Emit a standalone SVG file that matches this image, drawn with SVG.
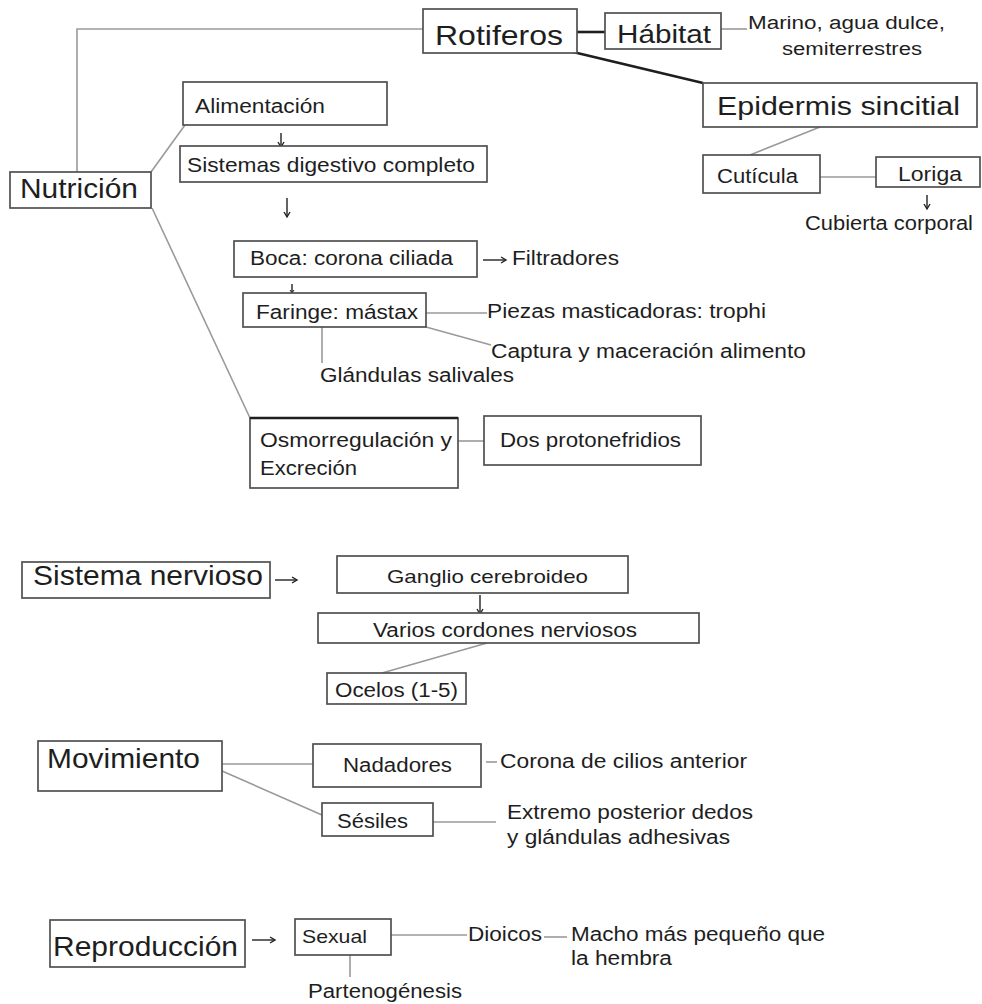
<svg xmlns="http://www.w3.org/2000/svg" width="982" height="1004" viewBox="0 0 982 1004">
  <style>
    .box { fill: #ffffff; stroke: #505050; stroke-width: 1.7; }
    .ln { fill: none; stroke: #9a9a9a; stroke-width: 1.6; }
    .thick { fill: none; stroke: #1e1e1e; stroke-width: 2.6; }
    .arr { fill: none; stroke: #222; stroke-width: 1.4; }
    text { font-family: "Liberation Sans", Arial, sans-serif; fill: #1e1e1e; }
    .big { font-size: 28px; }
    .mid { font-size: 20px; }
  </style>
  <defs>
    <marker id="head" markerWidth="8" markerHeight="8" refX="6" refY="4" orient="auto" markerUnits="userSpaceOnUse">
      <path d="M1,1 L6,4 L1,7" fill="none" stroke="#222" stroke-width="1.4"/>
    </marker>
    <marker id="tiny" markerWidth="6" markerHeight="6" refX="4" refY="3" orient="auto" markerUnits="userSpaceOnUse">
      <path d="M1,1 L4,3 L1,5" fill="none" stroke="#222" stroke-width="1"/>
    </marker>
  </defs>

  <rect width="982" height="1004" fill="#ffffff"/>

  <!-- connectors -->
  <g id="connectors">
    <polyline class="ln" points="423,29 77,29 77,172"/>
    <line class="thick" x1="577" y1="32" x2="605" y2="32"/>
    <line class="ln" x1="721" y1="29" x2="747" y2="29"/>
    <line class="thick" x1="573" y1="52" x2="703" y2="83"/>
    <line class="ln" x1="820" y1="127" x2="750" y2="155"/>
    <line class="ln" x1="820" y1="177" x2="876" y2="177"/>
    <line class="arr" x1="927" y1="195" x2="927" y2="209" marker-end="url(#head)"/>
    <line class="ln" x1="151" y1="172" x2="185" y2="125"/>
    <line class="ln" x1="152" y1="208" x2="250" y2="418"/>
    <line class="arr" x1="281" y1="133" x2="281" y2="147" marker-end="url(#head)"/>
    <line class="arr" x1="287" y1="198" x2="287" y2="217" marker-end="url(#head)"/>
    <line class="arr" x1="483" y1="260" x2="506" y2="260" marker-end="url(#head)"/>
    <line class="arr" x1="292" y1="284" x2="292" y2="293" stroke-width="1" marker-end="url(#tiny)"/>
    <line class="ln" x1="426" y1="313" x2="487" y2="313"/>
    <line class="ln" x1="426" y1="327" x2="491" y2="345"/>
    <line class="ln" x1="322" y1="327" x2="322" y2="363"/>
    <line class="ln" x1="458" y1="441" x2="484" y2="441"/>
    <line class="arr" x1="275" y1="580" x2="297" y2="580" marker-end="url(#head)"/>
    <line class="arr" x1="480" y1="595" x2="480" y2="614" marker-end="url(#head)"/>
    <line class="ln" x1="487" y1="643" x2="382" y2="673"/>
    <line class="ln" x1="222" y1="764" x2="313" y2="764"/>
    <line class="ln" x1="222" y1="771" x2="322" y2="815"/>
    <line class="ln" x1="486" y1="762" x2="497" y2="762"/>
    <line class="ln" x1="433" y1="822" x2="496" y2="822"/>
    <line class="arr" x1="252" y1="940" x2="275" y2="940" marker-end="url(#head)"/>
    <line class="ln" x1="391" y1="935" x2="467" y2="935"/>
    <line class="ln" x1="544" y1="937" x2="567" y2="937"/>
    <line class="ln" x1="350" y1="955" x2="350" y2="977"/>
  </g>

  <!-- root -->
  <g id="rotiferos">
    <rect class="box" x="423" y="9" width="154" height="44"/>
    <text class="big" x="435" y="45" textLength="128" lengthAdjust="spacingAndGlyphs">Rotiferos</text>
  </g>

  <!-- habitat -->
  <g id="habitat">
    <rect class="box" x="605" y="13" width="116" height="36"/>
    <text x="617" y="43" font-size="26" textLength="94" lengthAdjust="spacingAndGlyphs">Hábitat</text>
  </g>
  <g id="habitat-tipos">
    <text x="748" y="29" font-size="18" textLength="197" lengthAdjust="spacingAndGlyphs">Marino, agua dulce,</text>
    <text x="782" y="55" font-size="18" textLength="140" lengthAdjust="spacingAndGlyphs">semiterrestres</text>
  </g>

  <!-- body wall -->
  <g id="epidermis">
    <rect class="box" x="703" y="83" width="274" height="44"/>
    <text x="717" y="115" font-size="26" textLength="243" lengthAdjust="spacingAndGlyphs">Epidermis sincitial</text>
  </g>
  <g id="cuticula">
    <rect class="box" x="703" y="155" width="117" height="38"/>
    <text class="mid" x="717" y="183" textLength="81" lengthAdjust="spacingAndGlyphs">Cutícula</text>
  </g>
  <g id="loriga">
    <rect class="box" x="876" y="157" width="104" height="30"/>
    <text class="mid" x="898" y="181" textLength="64" lengthAdjust="spacingAndGlyphs">Loriga</text>
  </g>
  <g id="cubierta">
    <text class="mid" x="805" y="230" textLength="168" lengthAdjust="spacingAndGlyphs">Cubierta corporal</text>
  </g>

  <!-- nutrition -->
  <g id="nutricion">
    <rect class="box" x="10" y="172" width="141" height="36"/>
    <text class="big" x="20" y="198" textLength="118" lengthAdjust="spacingAndGlyphs">Nutrición</text>
  </g>
  <g id="alimentacion">
    <rect class="box" x="183" y="82" width="204" height="43"/>
    <text class="mid" x="195" y="113" textLength="130" lengthAdjust="spacingAndGlyphs">Alimentación</text>
  </g>
  <g id="digestivo">
    <rect class="box" x="180" y="146" width="307" height="36"/>
    <text x="187" y="172" font-size="21" textLength="288" lengthAdjust="spacingAndGlyphs">Sistemas digestivo completo</text>
  </g>
  <g id="boca">
    <rect class="box" x="234" y="241" width="243" height="36"/>
    <text class="mid" x="250" y="265" textLength="203" lengthAdjust="spacingAndGlyphs">Boca: corona ciliada</text>
  </g>
  <g id="filtradores">
    <text class="mid" x="512" y="265" textLength="107" lengthAdjust="spacingAndGlyphs">Filtradores</text>
  </g>
  <g id="faringe">
    <rect class="box" x="243" y="293" width="183" height="34"/>
    <text class="mid" x="256" y="319" textLength="162" lengthAdjust="spacingAndGlyphs">Faringe: mástax</text>
  </g>
  <g id="piezas">
    <text class="mid" x="487" y="318" textLength="279" lengthAdjust="spacingAndGlyphs">Piezas masticadoras: trophi</text>
  </g>
  <g id="captura">
    <text class="mid" x="491" y="358" textLength="315" lengthAdjust="spacingAndGlyphs">Captura y maceración alimento</text>
  </g>
  <g id="glandulas">
    <text class="mid" x="320" y="382" textLength="194" lengthAdjust="spacingAndGlyphs">Glándulas salivales</text>
  </g>
  <g id="osmorregulacion">
    <rect class="box" x="250" y="418" width="208" height="70"/>
    <line x1="250" y1="418" x2="458" y2="418" stroke="#1e1e1e" stroke-width="2.6"/>
    <text class="mid" x="260" y="447" textLength="192" lengthAdjust="spacingAndGlyphs">Osmorregulación y</text>
    <text class="mid" x="260" y="475" textLength="97" lengthAdjust="spacingAndGlyphs">Excreción</text>
  </g>
  <g id="protonefridios">
    <rect class="box" x="484" y="416" width="217" height="49"/>
    <text class="mid" x="500" y="447" textLength="181" lengthAdjust="spacingAndGlyphs">Dos protonefridios</text>
  </g>

  <!-- nervous system -->
  <g id="sistema-nervioso">
    <rect class="box" x="22" y="562" width="248" height="36"/>
    <text class="big" x="33" y="585" textLength="230" lengthAdjust="spacingAndGlyphs">Sistema nervioso</text>
  </g>
  <g id="ganglio">
    <rect class="box" x="337" y="556" width="291" height="37"/>
    <text x="387" y="583" font-size="19" textLength="201" lengthAdjust="spacingAndGlyphs">Ganglio cerebroideo</text>
  </g>
  <g id="cordones">
    <rect class="box" x="318" y="613" width="381" height="30"/>
    <text class="mid" x="373" y="637" textLength="264" lengthAdjust="spacingAndGlyphs">Varios cordones nerviosos</text>
  </g>
  <g id="ocelos">
    <rect class="box" x="327" y="673" width="139" height="31"/>
    <text class="mid" x="335" y="697" textLength="123" lengthAdjust="spacingAndGlyphs">Ocelos (1-5)</text>
  </g>

  <!-- locomotion -->
  <g id="movimiento">
    <rect class="box" x="38" y="741" width="184" height="50"/>
    <text class="big" x="47" y="768" textLength="153" lengthAdjust="spacingAndGlyphs">Movimiento</text>
  </g>
  <g id="nadadores">
    <rect class="box" x="313" y="744" width="168" height="43"/>
    <text class="mid" x="343" y="772" textLength="109" lengthAdjust="spacingAndGlyphs">Nadadores</text>
  </g>
  <g id="corona">
    <text class="mid" x="500" y="768" textLength="247" lengthAdjust="spacingAndGlyphs">Corona de cilios anterior</text>
  </g>
  <g id="sesiles">
    <rect class="box" x="322" y="803" width="111" height="33"/>
    <text class="mid" x="337" y="828" textLength="71" lengthAdjust="spacingAndGlyphs">Sésiles</text>
  </g>
  <g id="extremo">
    <text class="mid" x="507" y="819" textLength="246" lengthAdjust="spacingAndGlyphs">Extremo posterior dedos</text>
    <text class="mid" x="507" y="844" textLength="223" lengthAdjust="spacingAndGlyphs">y glándulas adhesivas</text>
  </g>

  <!-- reproduction -->
  <g id="reproduccion">
    <rect class="box" x="50" y="920" width="195" height="47"/>
    <text class="big" x="53" y="956" textLength="185" lengthAdjust="spacingAndGlyphs">Reproducción</text>
  </g>
  <g id="sexual">
    <rect class="box" x="295" y="919" width="96" height="36"/>
    <text x="302" y="943" font-size="19" textLength="65" lengthAdjust="spacingAndGlyphs">Sexual</text>
  </g>
  <g id="dioicos">
    <text class="mid" x="468" y="941" textLength="74" lengthAdjust="spacingAndGlyphs">Dioicos</text>
  </g>
  <g id="macho">
    <text class="mid" x="571" y="941" textLength="254" lengthAdjust="spacingAndGlyphs">Macho más pequeño que</text>
    <text class="mid" x="571" y="965" textLength="101" lengthAdjust="spacingAndGlyphs">la hembra</text>
  </g>
  <g id="partenogenesis">
    <text class="mid" x="308" y="998" textLength="154" lengthAdjust="spacingAndGlyphs">Partenogénesis</text>
  </g>
</svg>
